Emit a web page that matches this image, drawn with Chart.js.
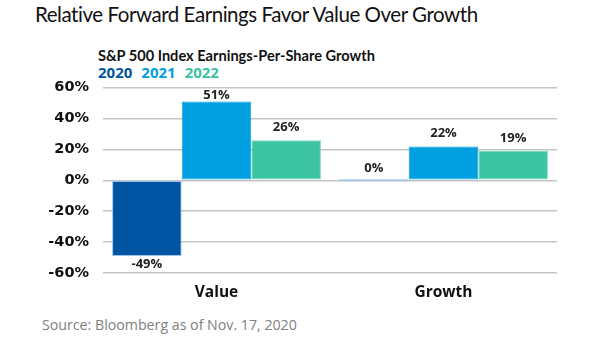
<!DOCTYPE html>
<html>
<head>
<meta charset="utf-8">
<script src="https://cdn.jsdelivr.net/npm/chart.js@4"></script>
<style>
    body { margin: 0; width: 605px; height: 341px; background: #fff; position: relative; overflow: hidden; font-family: 'Open Sans', sans-serif; }
    #title { position: absolute; left: 35px; top: 2px; font-family: Lato, sans-serif; font-size: 20.5px; letter-spacing: -0.45px; color: #111; white-space: nowrap; }
    #subtitle { position: absolute; left: 98px; top: 47px; font-family: Lato, sans-serif; font-size: 14.6px; font-weight: bold; color: #111; white-space: nowrap; }
    #legend { position: absolute; left: 98px; top: 62px; font-size: 15px; font-weight: bold; white-space: nowrap; }
    #legend span { margin-right: 9px; }
    #source { position: absolute; left: 42px; top: 315px; font-size: 14.2px; color: #808080; white-space: nowrap; }
    #wrap { position: absolute; left: 0; top: 65px; width: 605px; height: 235px; }
</style>
</head>
<body>
<div id="title">Relative Forward Earnings Favor Value Over Growth</div>
<div id="subtitle">S&amp;P 500 Index Earnings-Per-Share Growth</div>
<div id="legend"></div>
<div id="wrap"><canvas id="epsChart"></canvas></div>
<div id="source">Source: Bloomberg as of Nov. 17, 2020</div>
<script>
// Categories and yearly EPS growth (%)
const categories = ['Value', 'Growth'];
const years = ['2020', '2021', '2022'];
const growth2020 = [-49, 0];
const growth2021 = [51, 22];
const growth2022 = [26, 19];
const yTicks = [-60, -40, -20, 0, 20, 40, 60];

const seriesColors = ['#0055a2', '#00a0e0', '#3cc3a0'];
const seriesBorders = ['#9cc2e8', '#00a0e0', '#7fd9c0'];

// Colored year legend above the plot
document.getElementById('legend').innerHTML = years
    .map((y, i) => `<span style="color:${seriesColors[i]}">${y}</span>`)
    .join('');

// Value labels drawn at the end of each bar
const barValueLabels = {
    id: 'barValueLabels',
    afterDatasetsDraw(chart) {
        const ctx = chart.ctx;
        ctx.save();
        ctx.font = 'bold 13px "Open Sans", sans-serif';
        ctx.fillStyle = '#222';
        ctx.textAlign = 'center';
        ctx.textBaseline = 'middle';
        chart.data.datasets.forEach((ds, di) => {
            chart.getDatasetMeta(di).data.forEach((bar, i) => {
                const v = ds.data[i];
                const y = v < 0 ? bar.y + 8 : Math.max(bar.y - 13, chart.chartArea.top + 8);
                ctx.fillText(v + '%', bar.x, y);
            });
        });
        ctx.restore();
    }
};

const ctx = document.getElementById('epsChart');

new Chart(ctx, {
    type: 'bar',
    data: {
        labels: categories,
        datasets: [growth2020, growth2021, growth2022].map((d, i) => ({
            label: years[i],
            data: d,
            backgroundColor: seriesColors[i],
            borderColor: seriesBorders[i],
            borderWidth: 1,
            borderSkipped: false,
            minBarLength: i === 0 ? 2 : 0,
            categoryPercentage: 0.92,
            barPercentage: 1.0
        }))
    },
    options: {
        responsive: true,
        maintainAspectRatio: false,
        animation: false,
        layout: {
            padding: { top: 10, right: 48, bottom: 0, left: 0 }
        },
        plugins: {
            legend: { display: false },
            tooltip: { enabled: false }
        },
        scales: {
            x: {
                grid: { display: false },
                border: { display: false },
                ticks: {
                    color: '#111',
                    font: { family: 'Open Sans', size: 15.5, weight: 'bold' },
                    padding: 2
                },
                afterFit(scale) { scale.height = 27; }
            },
            y: {
                min: -60,
                max: 60,
                afterBuildTicks(scale) {
                    scale.ticks = yTicks.map(v => ({ value: v }));
                },
                grid: { color: '#c4c4c4', lineWidth: 1.5, drawTicks: false },
                border: { display: false },
                ticks: {
                    color: '#111',
                    font: { family: 'DejaVu Sans', size: 14.5, weight: 'bold' },
                    padding: 14,
                    callback: v => v + '%'
                },
                afterFit(scale) { scale.width = 103; }
            }
        }
    },
    plugins: [barValueLabels]
});
</script>
</body>
</html>
